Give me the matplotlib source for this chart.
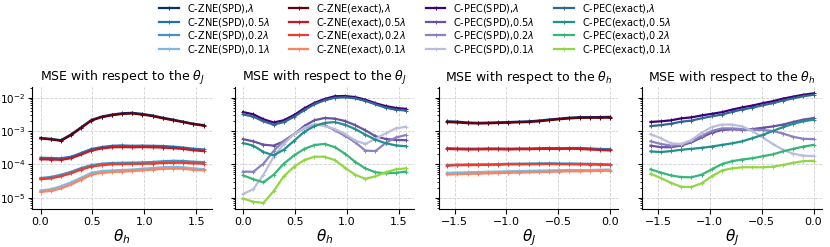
import numpy as np
import matplotlib
matplotlib.use("Agg")
import matplotlib.pyplot as plt

# x grids
theta_h = np.linspace(0, np.pi / 2, 17)
theta_j = np.linspace(-np.pi / 2, 0, 17)

fracs = ["$\\lambda$", "0.5$\\lambda$", "0.2$\\lambda$", "0.1$\\lambda$"]

# MSE w.r.t. theta_J, swept over theta_h -- ZNE
zne_spd_h = [
    [6.2e-4, 5.8e-4, 5.3e-4, 7.9e-4, 1.3e-3, 2.15e-3, 2.7e-3, 3.1e-3, 3.4e-3, 3.5e-3, 3.25e-3, 2.9e-3, 2.5e-3, 2.2e-3, 1.9e-3, 1.65e-3, 1.5e-3],
    [1.58e-4, 1.55e-4, 1.52e-4, 1.7e-4, 2.2e-4, 2.9e-4, 3.3e-4, 3.6e-4, 3.7e-4, 3.6e-4, 3.65e-4, 3.6e-4, 3.55e-4, 3.4e-4, 3.2e-4, 2.95e-4, 2.8e-4],
    [3.9e-5, 4.2e-5, 4.9e-5, 6.0e-5, 7.8e-5, 9.5e-5, 1.05e-4, 1.1e-4, 1.12e-4, 1.13e-4, 1.15e-4, 1.18e-4, 1.24e-4, 1.28e-4, 1.27e-4, 1.2e-4, 1.17e-4],
    [1.65e-5, 1.8e-5, 2.2e-5, 2.9e-5, 4.0e-5, 5.6e-5, 6.3e-5, 6.6e-5, 6.8e-5, 7.0e-5, 7.4e-5, 7.8e-5, 8.2e-5, 8.4e-5, 8.2e-5, 7.6e-5, 7.2e-5],
]
zne_exact_h = [
    [6.0e-4, 5.6e-4, 5.1e-4, 7.5e-4, 1.25e-3, 2.05e-3, 2.6e-3, 2.95e-3, 3.25e-3, 3.35e-3, 3.1e-3, 2.8e-3, 2.4e-3, 2.1e-3, 1.85e-3, 1.6e-3, 1.45e-3],
    [1.42e-4, 1.4e-4, 1.37e-4, 1.53e-4, 1.98e-4, 2.6e-4, 3.0e-4, 3.25e-4, 3.3e-4, 3.25e-4, 3.3e-4, 3.25e-4, 3.2e-4, 3.05e-4, 2.9e-4, 2.65e-4, 2.5e-4],
    [3.6e-5, 3.8e-5, 4.4e-5, 5.4e-5, 7.0e-5, 8.6e-5, 9.5e-5, 1.0e-4, 1.02e-4, 1.03e-4, 1.04e-4, 1.06e-4, 1.1e-4, 1.12e-4, 1.12e-4, 1.07e-4, 1.05e-4],
    [1.5e-5, 1.6e-5, 1.9e-5, 2.5e-5, 3.5e-5, 4.9e-5, 5.6e-5, 5.9e-5, 6.1e-5, 6.3e-5, 6.6e-5, 7.0e-5, 7.3e-5, 7.5e-5, 7.4e-5, 6.9e-5, 6.6e-5],
]

# MSE w.r.t. theta_J, swept over theta_h -- PEC
pec_spd_h = [
    [3.7e-3, 3.16e-3, 2.25e-3, 1.8e-3, 2.1e-3, 3.0e-3, 4.75e-3, 6.95e-3, 9.1e-3, 1.1e-2, 1.12e-2, 1.04e-2, 8.7e-3, 6.8e-3, 5.6e-3, 4.9e-3, 4.6e-3],
    [5.7e-4, 4.9e-4, 3.9e-4, 3.65e-4, 4.9e-4, 8.0e-4, 1.4e-3, 2.1e-3, 2.45e-3, 2.35e-3, 2.0e-3, 1.5e-3, 1.05e-3, 7.0e-4, 5.8e-4, 5.4e-4, 5.3e-4],
    [6.1e-5, 6.0e-5, 1.05e-4, 2.5e-4, 5.1e-4, 8.0e-4, 1.2e-3, 1.55e-3, 1.5e-3, 1.05e-3, 7.2e-4, 4.6e-4, 2.6e-4, 2.5e-4, 4.4e-4, 6.4e-4, 7.6e-4],
    [1.3e-5, 1.8e-5, 4.9e-5, 1.67e-4, 4.1e-4, 8.0e-4, 1.25e-3, 1.6e-3, 1.4e-3, 1.15e-3, 8.2e-4, 5.2e-4, 4.1e-4, 5.8e-4, 8.5e-4, 1.2e-3, 1.34e-3],
]
pec_exact_h = [
    [3.15e-3, 2.7e-3, 1.95e-3, 1.55e-3, 1.85e-3, 2.65e-3, 4.2e-3, 6.3e-3, 8.3e-3, 9.9e-3, 1.02e-2, 9.5e-3, 8.0e-3, 6.3e-3, 5.0e-3, 4.35e-3, 4.1e-3],
    [4.35e-4, 3.65e-4, 2.35e-4, 1.87e-4, 2.75e-4, 5.1e-4, 9.4e-4, 1.4e-3, 1.75e-3, 1.85e-3, 1.55e-3, 1.15e-3, 7.8e-4, 5.5e-4, 4.3e-4, 3.7e-4, 3.5e-4],
    [4.7e-5, 3.6e-5, 2.9e-5, 4.9e-5, 1.05e-4, 1.85e-4, 2.9e-4, 3.8e-4, 4.1e-4, 3.3e-4, 2.1e-4, 1.2e-4, 7.6e-5, 5.8e-5, 5.4e-5, 5.6e-5, 6.1e-5],
    [9.5e-6, 7.6e-6, 7.0e-6, 1.58e-5, 4.4e-5, 8.5e-5, 1.34e-4, 1.7e-4, 1.7e-4, 1.35e-4, 8.0e-5, 4.9e-5, 3.7e-5, 4.4e-5, 5.8e-5, 7.1e-5, 7.6e-5],
]

# MSE w.r.t. theta_h, swept over theta_J -- ZNE
zne_spd_j = [
    [1.95e-3, 1.9e-3, 1.8e-3, 1.75e-3, 1.78e-3, 1.82e-3, 1.85e-3, 1.9e-3, 1.95e-3, 2.05e-3, 2.2e-3, 2.35e-3, 2.5e-3, 2.6e-3, 2.6e-3, 2.62e-3, 2.65e-3],
    [3.05e-4, 3.0e-4, 2.95e-4, 2.95e-4, 3.0e-4, 3.0e-4, 2.95e-4, 3.0e-4, 3.0e-4, 3.05e-4, 3.1e-4, 3.05e-4, 3.1e-4, 3.1e-4, 3.0e-4, 2.9e-4, 2.85e-4],
    [9.6e-5, 9.8e-5, 1.0e-4, 1.0e-4, 1.0e-4, 1.02e-4, 1.04e-4, 1.05e-4, 1.06e-4, 1.07e-4, 1.08e-4, 1.07e-4, 1.06e-4, 1.05e-4, 1.04e-4, 1.02e-4, 1.0e-4],
    [5.6e-5, 5.7e-5, 5.8e-5, 5.9e-5, 6.0e-5, 6.1e-5, 6.2e-5, 6.3e-5, 6.4e-5, 6.5e-5, 6.6e-5, 6.7e-5, 6.8e-5, 6.7e-5, 6.8e-5, 6.9e-5, 7.0e-5],
]
zne_exact_j = [
    [1.85e-3, 1.8e-3, 1.72e-3, 1.68e-3, 1.7e-3, 1.74e-3, 1.78e-3, 1.82e-3, 1.86e-3, 1.95e-3, 2.1e-3, 2.25e-3, 2.38e-3, 2.48e-3, 2.5e-3, 2.5e-3, 2.52e-3],
    [2.9e-4, 2.85e-4, 2.8e-4, 2.82e-4, 2.85e-4, 2.85e-4, 2.8e-4, 2.85e-4, 2.85e-4, 2.9e-4, 2.92e-4, 2.9e-4, 2.95e-4, 2.9e-4, 2.8e-4, 2.7e-4, 2.62e-4],
    [9.2e-5, 9.4e-5, 9.5e-5, 9.6e-5, 9.7e-5, 9.8e-5, 1.0e-4, 1.0e-4, 1.01e-4, 1.02e-4, 1.03e-4, 1.02e-4, 1.01e-4, 1.0e-4, 9.9e-5, 9.8e-5, 9.6e-5],
    [5.0e-5, 5.1e-5, 5.2e-5, 5.3e-5, 5.4e-5, 5.5e-5, 5.6e-5, 5.7e-5, 5.8e-5, 5.9e-5, 6.0e-5, 6.1e-5, 6.2e-5, 6.2e-5, 6.3e-5, 6.4e-5, 6.5e-5],
]

# MSE w.r.t. theta_h, swept over theta_J -- PEC
pec_spd_j = [
    [1.87e-3, 1.95e-3, 2.09e-3, 2.39e-3, 2.56e-3, 2.92e-3, 3.27e-3, 3.66e-3, 4.37e-3, 5.1e-3, 5.8e-3, 6.8e-3, 7.8e-3, 9.35e-3, 1.07e-2, 1.22e-2, 1.34e-2],
    [3.65e-4, 3.27e-4, 3.27e-4, 3.65e-4, 4.57e-4, 6.4e-4, 8.9e-4, 1.07e-3, 1.12e-3, 1.09e-3, 1.14e-3, 1.25e-3, 1.37e-3, 1.56e-3, 1.87e-3, 2.19e-3, 2.44e-3],
    [4.9e-4, 4.1e-4, 3.65e-4, 3.83e-4, 4.9e-4, 7.15e-4, 1.0e-3, 1.2e-3, 1.2e-3, 1.14e-3, 1.09e-3, 1.07e-3, 1.0e-3, 8.4e-4, 6.7e-4, 5.85e-4, 5.7e-4],
    [8.0e-4, 6.1e-4, 4.27e-4, 4.1e-4, 5.35e-4, 8.9e-4, 1.31e-3, 1.56e-3, 1.56e-3, 1.37e-3, 1.0e-3, 6.4e-4, 4.1e-4, 2.74e-4, 2.09e-4, 1.83e-4, 1.78e-4],
]
pec_exact_j = [
    [1.4e-3, 1.5e-3, 1.65e-3, 1.9e-3, 2.05e-3, 2.4e-3, 2.75e-3, 3.1e-3, 3.75e-3, 4.4e-3, 5.0e-3, 5.9e-3, 6.8e-3, 8.2e-3, 9.5e-3, 1.1e-2, 1.22e-2],
    [2.45e-4, 2.34e-4, 2.5e-4, 2.74e-4, 2.92e-4, 3.13e-4, 3.42e-4, 3.83e-4, 4.27e-4, 4.9e-4, 6.1e-4, 7.65e-4, 1.0e-3, 1.31e-3, 1.64e-3, 1.95e-3, 2.19e-3],
    [7.1e-5, 5.7e-5, 4.67e-5, 4.17e-5, 4.1e-5, 4.9e-5, 7.1e-5, 1.02e-4, 1.25e-4, 1.4e-4, 1.53e-4, 1.75e-4, 2.0e-4, 2.45e-4, 2.92e-4, 3.42e-4, 3.83e-4],
    [5.25e-5, 3.9e-5, 2.8e-5, 2.14e-5, 2.1e-5, 2.7e-5, 4.4e-5, 6.55e-5, 7.6e-5, 8.2e-5, 8.2e-5, 8.2e-5, 8.55e-5, 9.6e-5, 1.12e-4, 1.25e-4, 1.28e-4],
]

blues = ['#08306b', '#2171b5', '#4292c6', '#7db8e0']
reds = ['#67000d', '#cb181d', '#ef3b2c', '#fc8262']
purples = ['#3f007d', '#6a51a3', '#8a82c2', '#bcbddc']
greens = ['#31688e', '#21918c', '#35b779', '#90d743']

fig = plt.figure(figsize=(8.3, 2.47), dpi=100)
lefts = [0.039, 0.283, 0.529, 0.774]
axes = []
for i, l in enumerate(lefts):
    ax = fig.add_axes([l, 0.152, 0.216, 0.496], sharey=axes[0] if axes else None)
    axes.append(ax)


def draw(ax, x, data, colors, name):
    for k in range(4):
        ax.plot(x, data[k], color=colors[k], lw=1.6, marker='+', ms=3, mew=0.7,
                label="%s,%s" % (name, fracs[k]))


draw(axes[0], theta_h, zne_spd_h, blues, "C-ZNE(SPD)")
draw(axes[0], theta_h, zne_exact_h, reds, "C-ZNE(exact)")
draw(axes[1], theta_h, pec_spd_h, purples, "C-PEC(SPD)")
draw(axes[1], theta_h, pec_exact_h, greens, "C-PEC(exact)")
draw(axes[2], theta_j, zne_spd_j, blues, "C-ZNE(SPD)")
draw(axes[2], theta_j, zne_exact_j, reds, "C-ZNE(exact)")
draw(axes[3], theta_j, pec_spd_j, purples, "C-PEC(SPD)")
draw(axes[3], theta_j, pec_exact_j, greens, "C-PEC(exact)")

titles = ["MSE with respect to the $\\theta_J$"] * 2 + ["MSE with respect to the $\\theta_h$"] * 2
xlabels = ["$\\theta_h$"] * 2 + ["$\\theta_J$"] * 2
for i, ax in enumerate(axes):
    ax.set_yscale('log')
    ax.set_ylim(10 ** -5.35, 10 ** -1.68)
    ax.set_title(titles[i], fontsize=9, pad=4)
    ax.set_xlabel(xlabels[i], fontsize=11, labelpad=0)
    ax.grid(True, which='major', ls='--', color='#d0d0d0', lw=0.6)
    ax.spines['top'].set_visible(False)
    ax.spines['right'].set_visible(False)
    ax.tick_params(labelsize=8, pad=2)
    ax.tick_params(axis='y', which='major', length=3, labelsize=7.5)
    ax.tick_params(axis='y', which='minor', length=1.8)
    if i > 0:
        ax.tick_params(labelleft=False)
for ax in axes[2:]:
    ax.set_xticks([-1.5, -1.0, -0.5, 0.0])
for ax in axes[:2]:
    ax.set_xticks([0.0, 0.5, 1.0, 1.5])

h0, l0 = axes[0].get_legend_handles_labels()
h1, l1 = axes[1].get_legend_handles_labels()
fig.legend(h0 + h1, l0 + l1, loc='upper center', bbox_to_anchor=(0.5, 1.01), ncol=4,
           frameon=False, fontsize=7, labelspacing=0.05, handlelength=2.0,
           columnspacing=2.0, borderaxespad=0.1)

fig.savefig("out.png", dpi=100)
